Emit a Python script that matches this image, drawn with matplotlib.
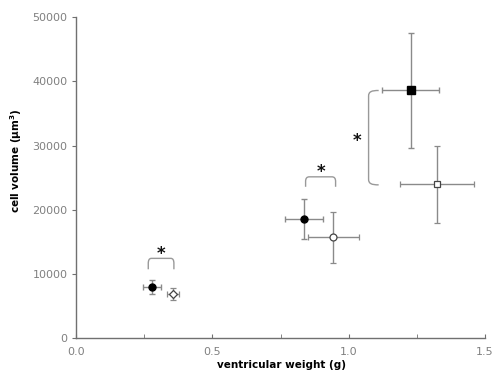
import matplotlib
matplotlib.use("Agg")
import matplotlib.pyplot as plt
from matplotlib.path import Path
from matplotlib.patches import PathPatch
import numpy as np

# Data
filled_x = [0.278, 0.836, 1.228]
filled_y = [8050, 18600, 38600]
filled_xerr = [0.032, 0.071, 0.105]
filled_yerr = [1100, 3100, 9000]
filled_markers = ['o', 'o', 's']

open_x = [0.356, 0.944, 1.323]
open_y = [6950, 15750, 24000]
open_xerr = [0.022, 0.094, 0.136]
open_yerr = [950, 4000, 6000]
open_markers = ['D', 'o', 's']

# horizontal brackets: x_left, x_right, y_top, y_bottom
hbrackets = [(0.265, 0.359, 12450, 10750), (0.842, 0.952, 25150, 23600)]
# vertical bracket: x_left, x_right, y_top, y_bottom
vbracket = (1.073, 1.110, 38600, 23900)
star_pos = [(0.312, 13200), (0.900, 25900), (1.029, 30700)]

xticks = [0.0, 0.5, 1.0, 1.5]
yticks = [0, 10000, 20000, 30000, 40000, 50000]

fig = plt.figure(figsize=(4.92, 3.72), dpi=100)
ax = fig.add_axes([0.1545, 0.0906, 0.8313, 0.8629])

ecol = '#8a8a8a'
for x, y, xe, ye, m in zip(filled_x, filled_y, filled_xerr, filled_yerr, filled_markers):
    ax.errorbar(x, y, xerr=xe, yerr=ye, fmt=m, color='black', ecolor=ecol,
                elinewidth=1.0, capsize=2.5, capthick=1.0, markersize=5 if m == 'o' else 5.5,
                markerfacecolor='black', markeredgecolor='black', zorder=3)
for x, y, xe, ye, m in zip(open_x, open_y, open_xerr, open_yerr, open_markers):
    ax.errorbar(x, y, xerr=xe, yerr=ye, fmt=m, color='black', ecolor=ecol,
                elinewidth=1.0, capsize=2.5, capthick=1.0, markersize=5 if m != 'D' else 4.5,
                markerfacecolor='white', markeredgecolor='#444444', markeredgewidth=0.9, zorder=3)

bcol = '#999999'
for xl, xr, yt, yb in hbrackets:
    dx = (xr - xl) * 0.12
    dy = (yt - yb) * 0.45
    verts = [(xl, yb), (xl, yt - dy), (xl, yt), (xl + dx, yt), (xr - dx, yt),
             (xr, yt), (xr, yt - dy), (xr, yb)]
    codes = [Path.MOVETO, Path.LINETO, Path.CURVE3, Path.CURVE3, Path.LINETO,
             Path.CURVE3, Path.CURVE3, Path.LINETO]
    ax.add_patch(PathPatch(Path(verts, codes), fill=False, edgecolor=bcol, lw=1.0))

xl, xr, yt, yb = vbracket
dy = (yt - yb) * 0.06
verts = [(xr, yt), (xl + (xr - xl) * 0.3, yt), (xl, yt - dy * 0.2), (xl, yt - dy),
         (xl, yb + dy), (xl, yb + dy * 0.2), (xl + (xr - xl) * 0.3, yb), (xr, yb)]
codes = [Path.MOVETO, Path.CURVE4, Path.CURVE4, Path.CURVE4, Path.LINETO,
         Path.CURVE4, Path.CURVE4, Path.CURVE4]
ax.add_patch(PathPatch(Path(verts, codes), fill=False, edgecolor=bcol, lw=1.0))

for sx, sy in star_pos:
    ax.text(sx, sy, '*', fontsize=12, fontweight='bold', ha='center', va='center', color='#111111')

ax.set_xlim(0, 1.5)
ax.set_ylim(0, 50000)
ax.set_xticks(xticks)
ax.set_xticklabels(['0.0', '0.5', '1.0', '1.5'])
ax.set_xticks([0.25, 0.75, 1.25], minor=True)
ax.set_yticks(yticks)
ax.set_yticklabels([str(v) for v in yticks])

for s in ['top', 'right']:
    ax.spines[s].set_visible(False)
for s in ['left', 'bottom']:
    ax.spines[s].set_color('#707070')
    ax.spines[s].set_linewidth(1.0)

ax.tick_params(axis='x', which='major', direction='in', length=3, color='#707070',
               labelsize=8, labelcolor='#808080', pad=6)
ax.tick_params(axis='x', which='minor', direction='in', length=3, color='#707070')
ax.tick_params(axis='y', which='major', direction='out', length=3, color='#707070',
               labelsize=8, labelcolor='#808080', pad=3)

ax.set_xlabel('ventricular weight (g)', fontsize=7.5, fontweight='bold')
ax.xaxis.set_label_coords(0.503, -0.083)
ax.xaxis.label.set_va('center')
ax.set_ylabel('cell volume (\u00b5m$^\\mathbf{3}$)', fontsize=7.5, fontweight='bold')
ax.yaxis.set_label_coords(-0.147, 0.555)
ax.yaxis.label.set_va('center')

fig.savefig('out.png', dpi=100)
